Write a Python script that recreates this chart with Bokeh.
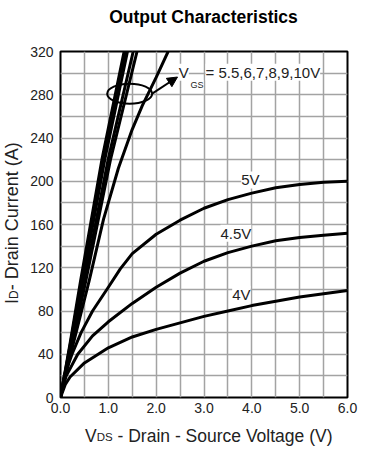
import math
from bokeh.plotting import figure
from bokeh.models import (FixedTicker, Label, Arrow, NormalHead, NumeralTickFormatter,
                          Range1d, Div)
from bokeh.layouts import row, column
from bokeh.embed import file_html
from bokeh.resources import INLINE

# ---- data ----
title_text = "Output Characteristics"
x_ticks = [0, 1, 2, 3, 4, 5, 6]
y_ticks = [0, 40, 80, 120, 160, 200, 240, 280, 320]
x_grid = [0, 0.5, 1, 1.5, 2, 2.5, 3, 3.5, 4, 4.5, 5, 5.5, 6]
y_grid = [0, 20, 40, 60, 80, 100, 120, 140, 160, 180, 200, 220, 240, 260, 280, 300, 320]

vds_4v = [0, 0.1, 0.2, 0.5, 1.0, 1.5, 2.0, 2.5, 3.0, 3.5, 4.0, 4.5, 5.0, 5.5, 6.0]
id_4v = [0, 12, 19, 32, 46, 56, 63, 69, 75, 80, 85, 89, 93, 96, 99]

vds_45v = [0, 0.05, 0.12, 0.36, 0.67, 1.0, 1.5, 2.0, 2.5, 3.0, 3.5, 4.0, 4.5, 5.0, 5.5, 6.0]
id_45v = [0, 10, 20, 40, 57, 70, 87, 102, 115, 126, 134, 140, 145, 148, 150, 152]

vds_5v = [0, 0.08, 0.24, 0.43, 0.67, 1.0, 1.25, 1.5, 2.0, 2.5, 3.0, 3.5, 4.0, 4.5, 5.0, 5.5, 6.0]
id_5v = [0, 20, 40, 60, 80, 102, 119, 133, 151, 164, 175, 183, 189, 194, 197, 199, 200]

vds_55v = [0, 0.2, 0.6, 0.9, 1.21, 1.5, 1.71, 2.0, 2.25]
id_55v = [0, 38, 108, 165, 212, 248, 270, 296, 320]

vds_6v = [0, 0.2, 0.53, 1.05, 1.6]
id_6v = [0, 41, 108, 221, 320]

vds_7v = [0, 0.2, 0.5, 1.0, 1.52]
id_7v = [0, 44, 108, 221, 320]

vds_8v = [0, 0.2, 0.46, 0.93, 1.40]
id_8v = [0, 46, 108, 221, 320]

vds_9v = [0, 0.2, 0.44, 0.9, 1.36]
id_9v = [0, 48, 108, 221, 320]

vds_10v = [0, 0.2, 0.42, 0.87, 1.33]
id_10v = [0, 50, 108, 221, 320]

curve_labels = ["5V", "4.5V", "4V"]
curve_label_x = [3.778, 3.345, 3.589]
curve_label_y = [201.2, 151.9, 95.5]

FONT = "Liberation Sans"
TXT = "#222222"

p = figure(width=360, height=390, output_backend="svg", toolbar_location=None,
           x_range=Range1d(0, 6), y_range=Range1d(0, 320),
           min_border_left=34, min_border_right=39, min_border_top=21, min_border_bottom=23)
p.background_fill_color = "white"
p.border_fill_color = "white"
p.outline_line_color = "black"
p.outline_line_width = 2

# grid
p.xgrid.ticker = FixedTicker(ticks=x_grid)
p.ygrid.ticker = FixedTicker(ticks=y_grid)
for g in (p.xgrid, p.ygrid):
    g.grid_line_color = "#a3a3a3"
    g.grid_line_width = 1.5

# axes
p.xaxis.ticker = FixedTicker(ticks=x_ticks)
p.yaxis.ticker = FixedTicker(ticks=y_ticks)
p.xaxis.formatter = NumeralTickFormatter(format="0.0")
for ax in (p.xaxis, p.yaxis):
    ax.axis_line_color = None
    ax.major_tick_line_color = None
    ax.minor_tick_line_color = None
    ax.major_tick_out = 0
    ax.major_tick_in = 0
    ax.minor_tick_out = 0
    ax.minor_tick_in = 0
    ax.major_label_text_font = FONT
    ax.major_label_text_font_size = "14px"
    ax.major_label_text_color = TXT
p.xaxis.major_label_standoff = 5
p.yaxis.major_label_standoff = 7

# curves
for xs, ys in [(vds_4v, id_4v), (vds_45v, id_45v), (vds_5v, id_5v), (vds_55v, id_55v),
               (vds_6v, id_6v), (vds_7v, id_7v), (vds_8v, id_8v), (vds_9v, id_9v),
               (vds_10v, id_10v)]:
    p.line(xs, ys, line_color="black", line_width=3, line_join="round")

# ellipse + arrow
p.ellipse(x=[1.446], y=[281], width=[0.94], height=[18.5], fill_color=None,
          line_color="black", line_width=2)
p.add_layout(Arrow(end=NormalHead(size=10, fill_color="black", line_color="black"),
                   x_start=1.917, y_start=281, x_end=2.446, y_end=296.4,
                   line_color="black", line_width=2))

def lab(x, y, text, size, **kw):
    l = Label(x=x, y=y, text=text, text_font=FONT, text_font_size=size,
              text_color=TXT, text_baseline="alphabetic",
              background_fill_color="white", **kw)
    p.add_layout(l)
    return l

# VGS label
lab(2.473, 300.8, "V", "15px")
lab(2.718, 289.0, "GS", "9px")
lab(3.031, 300.8, "= 5.5,6,7,8,9,10V", "15px")

# curve labels
for t, x, y in zip(curve_labels, curve_label_x, curve_label_y):
    lab(x, y, t, "15px")

# title and axis labels as HTML text (with subscripts)
title_html = (
    '<div style="position:relative;width:386px;height:30px;">'
    '<div style="position:absolute;left:0px;top:6.6px;width:407px;text-align:center;'
    'white-space:nowrap;font-family:\'Liberation Sans\';font-size:17.5px;font-weight:bold;'
    'line-height:20px;color:#000000;">' + title_text + '</div></div>'
)
ylab_html = (
    '<div style="position:relative;width:26px;height:390px;">'
    '<div style="position:absolute;left:2px;top:273.5px;transform:rotate(-90deg);'
    'transform-origin:0 0;white-space:nowrap;font-family:\'Liberation Sans\';'
    'font-size:18px;line-height:20px;color:#222222;">'
    'I<span style="font-size:12px;">D</span>- Drain Current (A)</div></div>'
)
xlab_html = (
    '<div style="position:relative;width:386px;height:49px;">'
    '<div style="position:absolute;left:85px;top:5.6px;white-space:nowrap;'
    'font-family:\'Liberation Sans\';font-size:17.5px;line-height:20px;color:#222222;">'
    'V<span style="font-size:11.5px;vertical-align:1px;">DS</span> - Drain - Source Voltage (V)'
    '</div></div>'
)
tdiv = Div(text=title_html, width=386, height=30, margin=0)
ylab = Div(text=ylab_html, width=26, height=390, margin=0)
xlab = Div(text=xlab_html, width=386, height=49, margin=0)

layout = column(tdiv, row(ylab, p, spacing=0), xlab, spacing=0)

open("out.html", "w").write(file_html(layout, INLINE))
